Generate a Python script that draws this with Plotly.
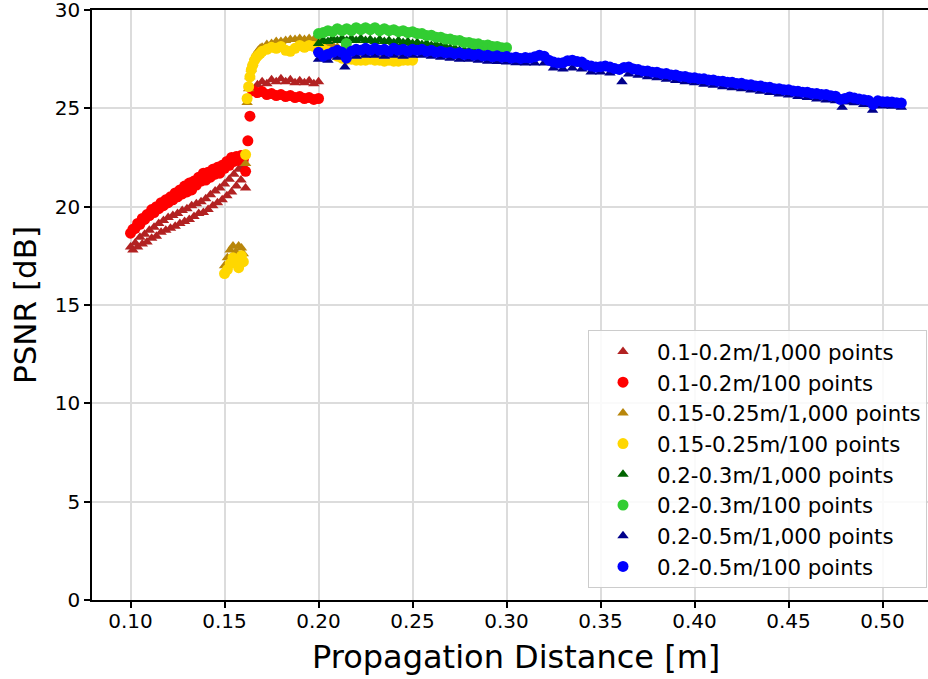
import plotly.graph_objects as go

# ---------------- data ----------------
labels = [
    "0.1-0.2m/1,000 points", "0.1-0.2m/100 points",
    "0.15-0.25m/1,000 points", "0.15-0.25m/100 points",
    "0.2-0.3m/1,000 points", "0.2-0.3m/100 points",
    "0.2-0.5m/1,000 points", "0.2-0.5m/100 points",
]
colors = ["#B22222", "#FF0000", "#B8860B", "#FFD700",
          "#006400", "#32CD32", "#00008B", "#0000FF"]
symbols = ["triangle-up", "circle", "triangle-up", "circle",
           "triangle-up", "circle", "triangle-up", "circle"]

# 0.1-0.2 m / 1,000 points
s1_x = [0.10000, 0.10125, 0.10250, 0.10375, 0.10500, 0.10625, 0.10750, 0.10875, 0.11000, 0.11125,
        0.11250, 0.11375, 0.11500, 0.11625, 0.11750, 0.11875, 0.12000, 0.12125, 0.12250, 0.12375,
        0.12500, 0.12625, 0.12750, 0.12875, 0.13000, 0.13125, 0.13250, 0.13375, 0.13500, 0.13625,
        0.13750, 0.13875, 0.14000, 0.14125, 0.14250, 0.14375, 0.14500, 0.14625, 0.14750, 0.14875,
        0.15000, 0.15125, 0.15250, 0.15375, 0.15500, 0.15625, 0.15750, 0.15875, 0.16000, 0.16120,
        0.1650, 0.1675, 0.1700, 0.1725, 0.1750, 0.1775, 0.1800, 0.1825, 0.1850, 0.1875,
        0.1900, 0.1925, 0.1950, 0.1975, 0.2000]
s1_y = [17.95, 17.8, 18.15, 17.95, 18.45, 18.1, 18.6, 18.2, 18.8, 18.4,
        18.95, 18.5, 19.15, 18.7, 19.3, 18.8, 19.45, 18.9, 19.55, 19.0,
        19.65, 19.15, 19.8, 19.25, 19.9, 19.35, 20.05, 19.5, 20.15, 19.65,
        20.25, 19.7, 20.4, 19.85, 20.6, 20.05, 20.8, 20.2, 20.95, 20.35,
        21.15, 20.55, 21.4, 20.75, 21.65, 21.05, 21.9, 21.35, 22.05, 20.95,
        25.95, 26.2, 26.35, 26.25, 26.45, 26.35, 26.5, 26.35, 26.45, 26.3,
        26.4, 26.3, 26.4, 26.25, 26.35]

# 0.1-0.2 m / 100 points
s2_x = [0.10000, 0.10125, 0.10250, 0.10375, 0.10500, 0.10625, 0.10750, 0.10875, 0.11000, 0.11125,
        0.11250, 0.11375, 0.11500, 0.11625, 0.11750, 0.11875, 0.12000, 0.12125, 0.12250, 0.12375,
        0.12500, 0.12625, 0.12750, 0.12875, 0.13000, 0.13125, 0.13250, 0.13375, 0.13500, 0.13625,
        0.13750, 0.13875, 0.14000, 0.14125, 0.14250, 0.14375, 0.14500, 0.14625, 0.14750, 0.14875,
        0.15000, 0.15125, 0.15250, 0.15375, 0.15500, 0.15625, 0.15750, 0.15875, 0.16000,
        0.1612, 0.1624, 0.1635,
        0.1650, 0.1675, 0.1700, 0.1725, 0.1750, 0.1775, 0.1800, 0.1825, 0.1850, 0.1875,
        0.1900, 0.1925, 0.1950, 0.1975, 0.2000]
s2_y = [18.65, 18.85, 18.9, 19.15, 19.1, 19.4, 19.35, 19.6, 19.55, 19.85,
        19.7, 20.0, 19.9, 20.2, 20.05, 20.35, 20.2, 20.5, 20.35, 20.7,
        20.5, 20.85, 20.65, 21.05, 20.75, 21.2, 20.85, 21.3, 21.1, 21.5,
        21.3, 21.7, 21.35, 21.75, 21.5, 21.9, 21.65, 22.0, 21.7, 22.1,
        21.95, 22.3, 22.1, 22.5, 22.3, 22.55, 22.35, 22.6, 22.4,
        21.8, 23.35, 24.6,
        25.9, 25.8, 25.85, 25.7, 25.75, 25.65, 25.7, 25.6, 25.65, 25.55,
        25.6, 25.5, 25.55, 25.45, 25.5]

# 0.15-0.25 m / 1,000 points
s3_x = [0.1500, 0.1515, 0.1530, 0.1545, 0.1560, 0.1575, 0.1590, 0.1600, 0.1612,
        0.1620, 0.1628, 0.1635, 0.1642, 0.1650, 0.1660, 0.1670, 0.1680, 0.1690, 0.1700,
        0.1725, 0.1750, 0.1775, 0.1800, 0.1825, 0.1850, 0.1875, 0.1900, 0.1925, 0.1950,
        0.1975, 0.2000, 0.2025, 0.2050, 0.2075, 0.2100, 0.2125, 0.2150, 0.2175, 0.2200,
        0.2225, 0.2250, 0.2275, 0.2300, 0.2325, 0.2350, 0.2375, 0.2400, 0.2425, 0.2450,
        0.2475, 0.2500]
s3_y = [17.0, 17.4, 17.8, 18.0, 17.7, 18.0, 17.9, 17.6, 22.2,
        25.3, 26.0, 26.6, 27.0, 27.3, 27.6, 27.8, 27.95, 28.05, 28.1,
        28.25, 28.3, 28.4, 28.4, 28.45, 28.5, 28.5, 28.55, 28.5, 28.55,
        28.5, 28.5, 28.4, 28.3, 28.2, 28.1, 28.0, 27.95, 27.9, 27.85,
        27.85, 27.8, 27.8, 27.75, 27.75, 27.7, 27.7, 27.65, 27.65, 27.6,
        27.6, 27.6]

# 0.15-0.25 m / 100 points
s4_x = [0.1500, 0.1515, 0.1530, 0.1545, 0.1560, 0.1575, 0.1590, 0.1600, 0.1612,
        0.1620, 0.1628, 0.1635, 0.1642, 0.1650, 0.1660, 0.1670, 0.1680, 0.1690, 0.1700,
        0.1725, 0.1750, 0.1775, 0.1800, 0.1825, 0.1850, 0.1875, 0.1900, 0.1925, 0.1950,
        0.1975, 0.2000, 0.2025, 0.2050, 0.2075, 0.2100, 0.2125, 0.2150, 0.2175, 0.2200,
        0.2225, 0.2250, 0.2275, 0.2300, 0.2325, 0.2350, 0.2375, 0.2400, 0.2425, 0.2450,
        0.2475, 0.2500]
s4_y = [16.6, 16.8, 17.1, 17.4, 17.3, 16.9, 17.5, 17.2, 22.65,
        25.5, 26.1, 26.6, 26.95, 27.2, 27.45, 27.6, 27.7, 27.8, 27.9,
        28.0, 28.1, 28.05, 28.15, 27.95, 27.9, 28.05, 28.2, 28.1, 28.2,
        28.15, 28.15, 28.0, 27.9, 27.8, 27.65, 27.55, 27.5, 27.5, 27.45,
        27.45, 27.45, 27.5, 27.45, 27.45, 27.4, 27.45, 27.4, 27.4, 27.45,
        27.45, 27.45]

# 0.2-0.3 m / 1,000 points
s5_x = [0.2000, 0.2025, 0.2050, 0.2075, 0.2100, 0.2125, 0.2150, 0.2175, 0.2200, 0.2225,
        0.2250, 0.2275, 0.2300, 0.2325, 0.2350, 0.2375, 0.2400, 0.2425, 0.2450, 0.2475,
        0.2500, 0.2525, 0.2550, 0.2575, 0.2600, 0.2625, 0.2650, 0.2675, 0.2700, 0.2725,
        0.2750, 0.2775, 0.2800, 0.2825, 0.2850, 0.2875, 0.2900, 0.2925, 0.2950, 0.2975,
        0.3000]
s5_y = [28.3, 28.45, 28.4, 28.55, 28.45, 28.55, 28.45, 28.55, 28.45, 28.55,
        28.45, 28.5, 28.4, 28.5, 28.4, 28.45, 28.35, 28.45, 28.35, 28.4,
        28.3, 28.35, 28.25, 28.3, 28.2, 28.25, 28.15, 28.15, 28.05, 28.05,
        27.95, 27.95, 27.9, 27.9, 27.85, 27.85, 27.8, 27.8, 27.75, 27.75,
        27.7]

# 0.2-0.3 m / 100 points
s6_x = [0.2000, 0.2025, 0.2050, 0.2075, 0.2100, 0.2125, 0.2148, 0.2150, 0.2175, 0.2200,
        0.2225, 0.2250, 0.2275, 0.2300, 0.2325, 0.2350, 0.2375, 0.2400, 0.2425, 0.2450,
        0.2475, 0.2500, 0.2525, 0.2550, 0.2575, 0.2600, 0.2625, 0.2650, 0.2675, 0.2700,
        0.2725, 0.2750, 0.2775, 0.2800, 0.2825, 0.2850, 0.2875, 0.2900, 0.2925, 0.2950,
        0.2975, 0.3000]
s6_y = [28.8, 28.85, 28.95, 28.9, 29.05, 28.95, 28.3, 29.05, 28.95, 29.1,
        29.0, 29.1, 29.0, 29.1, 28.95, 29.05, 28.95, 29.0, 28.9, 28.95,
        28.85, 28.9, 28.8, 28.8, 28.7, 28.72, 28.62, 28.62, 28.52, 28.52,
        28.45, 28.45, 28.35, 28.35, 28.28, 28.28, 28.2, 28.22, 28.15, 28.15,
        28.08, 28.08]

# 0.2-0.5 m / 1,000 points
s7_x = [0.200, 0.205, 0.210, 0.214, 0.220, 0.225, 0.230, 0.235, 0.240, 0.245, 0.250,
        0.255, 0.260, 0.265, 0.270, 0.275, 0.280, 0.285, 0.290, 0.295, 0.300,
        0.305, 0.310, 0.315, 0.320, 0.325, 0.330, 0.335, 0.340, 0.345, 0.350,
        0.355, 0.3614, 0.365, 0.370, 0.375, 0.380, 0.385, 0.390, 0.395, 0.400,
        0.405, 0.410, 0.415, 0.420, 0.425, 0.430, 0.435, 0.440, 0.445, 0.450,
        0.455, 0.460, 0.465, 0.470, 0.475, 0.4785, 0.482, 0.485, 0.490, 0.4947,
        0.497, 0.500, 0.505, 0.510]
s7_y = [27.5, 27.45, 27.6, 27.1, 27.65, 27.7, 27.7, 27.65, 27.7, 27.65, 27.7,
        27.7, 27.65, 27.6, 27.55, 27.5, 27.5, 27.45, 27.4, 27.38, 27.35,
        27.32, 27.3, 27.3, 27.3, 27.05, 27.0, 27.05, 27.0, 26.85, 26.85,
        26.8, 26.35, 26.75, 26.68, 26.6, 26.55, 26.48, 26.42, 26.35, 26.3,
        26.22, 26.17, 26.1, 26.05, 26.0, 25.93, 25.87, 25.8, 25.73, 25.68,
        25.6, 25.55, 25.48, 25.43, 25.38, 25.05, 25.32, 25.28, 25.2, 24.9,
        25.15, 25.12, 25.1, 25.05]

# 0.2-0.5 m / 100 points
s8_x = [0.2000, 0.2025, 0.2050, 0.2075, 0.2100, 0.2125, 0.2148, 0.2175, 0.2200, 0.2225,
        0.2250, 0.2275, 0.2300, 0.2325, 0.2350, 0.2375, 0.2400, 0.2425, 0.2450, 0.2475,
        0.2500, 0.2525, 0.2550, 0.2575, 0.2600, 0.2625, 0.2650, 0.2675, 0.2700, 0.2725,
        0.2750, 0.2775, 0.2800, 0.2825, 0.2850, 0.2875, 0.2900, 0.2925, 0.2950, 0.2975,
        0.3000, 0.3025, 0.3050, 0.3075, 0.3100, 0.3125, 0.3150, 0.3175, 0.3200, 0.3225,
        0.3250, 0.3275, 0.3300, 0.3325, 0.3350, 0.3375, 0.3400, 0.3425, 0.3450, 0.3475,
        0.3500, 0.3525, 0.3550, 0.3575, 0.3600, 0.3625, 0.3650, 0.3675, 0.3700, 0.3725,
        0.3750, 0.3775, 0.3800, 0.3825, 0.3850, 0.3875, 0.3900, 0.3925, 0.3950, 0.3975,
        0.4000, 0.4025, 0.4050, 0.4075, 0.4100, 0.4125, 0.4150, 0.4175, 0.4200, 0.4225,
        0.4250, 0.4275, 0.4300, 0.4325, 0.4350, 0.4375, 0.4400, 0.4425, 0.4450, 0.4475,
        0.4500, 0.4525, 0.4550, 0.4575, 0.4600, 0.4625, 0.4650, 0.4675, 0.4700, 0.4725,
        0.4750, 0.4775, 0.4800, 0.4825, 0.4850, 0.4875, 0.4900, 0.4925, 0.4950, 0.4975,
        0.5000, 0.5025, 0.5050, 0.5075, 0.5100]
s8_y = [27.85, 27.65, 27.75, 27.85, 27.95, 27.85, 27.55, 27.9, 28.0, 27.95,
        28.05, 27.95, 28.05, 27.95, 28.0, 27.9, 28.05, 27.95, 28.0, 27.9,
        28.0, 27.95, 28.0, 27.9, 27.95, 27.85, 27.9, 27.82, 27.85, 27.78,
        27.82, 27.74, 27.78, 27.7, 27.75, 27.66, 27.7, 27.62, 27.67, 27.6,
        27.63, 27.56, 27.6, 27.54, 27.58, 27.56, 27.62, 27.7, 27.65, 27.45,
        27.35, 27.3, 27.32, 27.42, 27.45, 27.38, 27.35, 27.2, 27.15, 27.1,
        27.12, 27.15, 27.1, 27.02, 26.98, 27.08, 27.1, 27.0, 26.97, 26.9,
        26.9, 26.84, 26.84, 26.76, 26.77, 26.7, 26.7, 26.62, 26.62, 26.55,
        26.56, 26.5, 26.5, 26.44, 26.44, 26.38, 26.38, 26.32, 26.32, 26.26,
        26.27, 26.2, 26.2, 26.14, 26.14, 26.07, 26.07, 26.0, 26.0, 25.94,
        25.95, 25.88, 25.87, 25.82, 25.82, 25.75, 25.75, 25.7, 25.7, 25.64,
        25.62, 25.45, 25.5, 25.58, 25.52, 25.47, 25.44, 25.4, 25.2, 25.38,
        25.34, 25.33, 25.32, 25.28, 25.27]

xs = [s1_x, s2_x, s3_x, s4_x, s5_x, s6_x, s7_x, s8_x]
ys = [s1_y, s2_y, s3_y, s4_y, s5_y, s6_y, s7_y, s8_y]

x_ticks = [0.10, 0.15, 0.20, 0.25, 0.30, 0.35, 0.40, 0.45, 0.50]
y_ticks = [0, 5, 10, 15, 20, 25, 30]

# ---------------- figure ----------------
FONT = "DejaVu Sans"
fig = go.Figure()
for i in range(8):
    tri = symbols[i] == "triangle-up"
    fig.add_trace(go.Scatter(
        x=xs[i], y=ys[i], mode="markers", name=labels[i],
        legendgroup="g%d" % i,
        marker=dict(symbol=symbols[i], color=colors[i],
                    size=10 if tri else 11, line=dict(width=0)),
    ))

fig.update_layout(
    width=928, height=679,
    margin=dict(l=92, r=0, t=10, b=79),
    paper_bgcolor="white", plot_bgcolor="white",
    font=dict(family=FONT, size=20, color="black"),
    showlegend=True,
    legend=dict(
        x=0.5933, xanchor="left", y=0.02, yanchor="bottom",
        bgcolor="rgba(255,255,255,0.85)", bordercolor="#cccccc", borderwidth=1,
        font=dict(family=FONT, size=21.3, color="black"),
        tracegroupgap=0, itemwidth=58,
    ),
    annotations=[dict(
        text="Propagation Distance [m]", xref="paper", yref="paper",
        x=0.5072, y=-0.0966, xanchor="center", yanchor="middle",
        showarrow=False, font=dict(family=FONT, size=32, color="black"),
    )],
)
fig.update_xaxes(
    range=[0.0795, 0.52418], tickvals=x_ticks, tickformat=".2f",
    showgrid=True, gridcolor="#dcdcdc", gridwidth=1.5,
    showline=True, linecolor="black", linewidth=1.6, mirror=True,
    ticks="outside", ticklen=6, tickwidth=1.6, tickcolor="black",
    zeroline=False, automargin=False, ticklabeloverflow="allow",
    ticklabelstandoff=-4,
    tickfont=dict(family=FONT, size=20),
)
fig.update_yaxes(
    range=[0, 30], tickvals=y_ticks,
    showgrid=True, gridcolor="#dcdcdc", gridwidth=1.5,
    showline=True, linecolor="black", linewidth=1.6, mirror=False,
    ticks="outside", ticklen=6, tickwidth=1.6, tickcolor="black",
    zeroline=False, automargin=False, ticklabeloverflow="allow",
    title=dict(text="PSNR [dB]", font=dict(family=FONT, size=31), standoff=9),
    tickfont=dict(family=FONT, size=20),
)

fig.write_html("out.html", config={"displayModeBar": False},
               post_script="document.body.style.margin='0';document.body.style.overflow='hidden';")
